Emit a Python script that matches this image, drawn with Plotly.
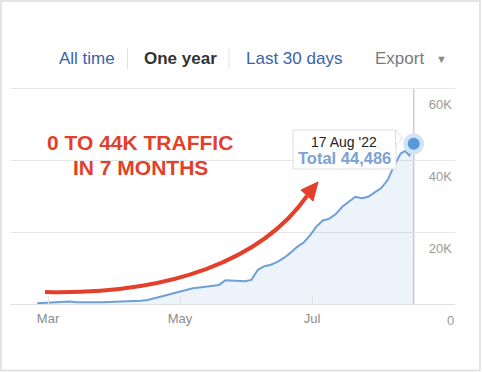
import plotly.graph_objects as go

# ---- data ----
dates = [
    "2022-02-24", "2022-02-27", "2022-03-02", "2022-03-05", "2022-03-08", "2022-03-11",
    "2022-03-14", "2022-03-17", "2022-03-20", "2022-03-23", "2022-03-26", "2022-03-29",
    "2022-04-01", "2022-04-04", "2022-04-07", "2022-04-10", "2022-04-13", "2022-04-16",
    "2022-04-19", "2022-04-22", "2022-04-25", "2022-04-28", "2022-05-01", "2022-05-04",
    "2022-05-07", "2022-05-10", "2022-05-13", "2022-05-16", "2022-05-19", "2022-05-22",
    "2022-05-25", "2022-05-28", "2022-05-31", "2022-06-03", "2022-06-06", "2022-06-09",
    "2022-06-12", "2022-06-15", "2022-06-18", "2022-06-21", "2022-06-24", "2022-06-27",
    "2022-06-30", "2022-07-03", "2022-07-06", "2022-07-09", "2022-07-12", "2022-07-15",
    "2022-07-18", "2022-07-21", "2022-07-24", "2022-07-27", "2022-07-30", "2022-08-02",
    "2022-08-05", "2022-08-08", "2022-08-11", "2022-08-13", "2022-08-15", "2022-08-16",
    "2022-08-17",
]
traffic = [
    200, 300, 400, 450, 500, 700,
    500, 450, 500, 450, 500, 550,
    600, 850, 700, 800, 900, 1100,
    1500, 2000, 2500, 3000, 3500, 4100,
    4400, 4600, 4900, 5100, 5300, 6600,
    6500, 6300, 6300, 6700, 9500, 10500,
    10900, 11700, 12800, 14200, 15800, 17000,
    19000, 21500, 23200, 23700, 25000, 27000,
    28500, 29800, 29400, 29800, 31000, 32200,
    34500, 38500, 41800, 42500, 41300, 43200,
    44486,
]
x_tick_vals = ["2022-03-01", "2022-05-01", "2022-07-01"]
x_tick_text = ["Mar", "May", "Jul"]
y_tick_vals = [0, 20000, 40000, 60000]
y_tick_text = ["0", "20K", "40K", "60K"]
tabs = ["All time", "One year", "Last 30 days"]
tooltip_date = "17 Aug '22"
headline = ["0 TO 44K TRAFFIC", "IN 7 MONTHS"]

FONT = "Liberation Sans, Arial, Helvetica, sans-serif"
RED = "#e2402a"
W, H = 482, 372
L, R, T, B = 10, 455, 87, 304
Y_MAX = 60280  # top of plot area one pixel above the 60K gridline


def px(x):
    return (x - L) / (R - L)


def py(y):
    return (B - y) / (B - T)


def pt(x, y):
    return f"{px(x):.5f},{py(y):.5f}"


fig = go.Figure()
fig.add_trace(go.Scatter(
    x=dates, y=traffic, mode="lines",
    line=dict(color="#6f9fd9", width=2),
    fill="tozeroy", fillcolor="rgba(111,159,217,0.12)", hoverinfo="skip"))
fig.add_trace(go.Scatter(
    x=[dates[-1]], y=[traffic[-1]], mode="markers",
    marker=dict(size=21, color="#d3e3f6"), hoverinfo="skip"))
fig.add_trace(go.Scatter(
    x=[dates[-1]], y=[traffic[-1]], mode="markers",
    marker=dict(size=12, color="#5b97dc"), hoverinfo="skip"))

shapes = []
# outer frame
shapes.append(dict(type="rect", xref="paper", yref="paper",
                   x0=px(1), x1=px(480), y0=py(370.5), y1=py(1),
                   line=dict(color="#dcdcdc", width=1.5), layer="below"))
# crosshair line at last point
shapes.append(dict(type="line", xref="x", yref="paper",
                   x0=dates[-1], x1=dates[-1], y0=0, y1=py(88),
                   line=dict(color="#c9ced7", width=1.5), layer="below"))
# header separators
for sx in (127.5, 229):
    shapes.append(dict(type="line", xref="paper", yref="paper",
                       x0=px(sx), x1=px(sx), y0=py(48), y1=py(69),
                       line=dict(color="#e2e2e2", width=1)))
# red arrow curve
shapes.append(dict(type="path", xref="paper", yref="paper",
                   path=f"M {pt(45, 292)} C {pt(170, 295)} {pt(262, 260)} {pt(307, 196)}",
                   line=dict(color=RED, width=4)))
shapes.append(dict(type="path", xref="paper", yref="paper",
                   path=f"M {pt(318, 182)} L {pt(301, 190)} L {pt(313, 201)} Z",
                   fillcolor=RED, line=dict(color=RED, width=1)))
# tooltip box
shapes.append(dict(type="rect", xref="paper", yref="paper",
                   x0=px(293), x1=px(396), y0=py(169), y1=py(130),
                   fillcolor="rgba(255,255,255,0.95)",
                   line=dict(color="#dedede", width=1)))
shapes.append(dict(type="path", xref="paper", yref="paper",
                   path=f"M {pt(395.5, 131)} L {pt(403, 138)} L {pt(395.5, 145)} Z",
                   fillcolor="rgba(255,255,255,0.95)", line=dict(color="#dedede", width=1)))

annotations = []
tab_pos = [87, 180.5, 293.5]
tab_style = [("#3b62aa", False), ("#333333", True), ("#3b62aa", False)]
for label, x, (col, bold) in zip(tabs, tab_pos, tab_style):
    annotations.append(dict(xref="paper", yref="paper", x=px(x), y=py(58),
                            text=f"<b>{label}</b>" if bold else label, showarrow=False,
                            xanchor="center", yanchor="middle",
                            font=dict(family=FONT, size=17, color=col)))
annotations.append(dict(xref="paper", yref="paper", x=px(399), y=py(58), text="Export",
                        showarrow=False, xanchor="center", yanchor="middle",
                        font=dict(family=FONT, size=17, color="#7a7a7a")))
annotations.append(dict(xref="paper", yref="paper", x=px(441), y=py(59), text="▼",
                        showarrow=False, xanchor="center", yanchor="middle",
                        font=dict(family=FONT, size=11, color="#8a8a8a")))
for line_text, y in zip(headline, (142.5, 167.5)):
    annotations.append(dict(xref="paper", yref="paper", x=px(140), y=py(y),
                            text=f"<b>{line_text}</b>", showarrow=False,
                            xanchor="center", yanchor="middle",
                            font=dict(family=FONT, size=21, color=RED)))
annotations.append(dict(xref="paper", yref="paper", x=px(344), y=py(142),
                        text=tooltip_date, showarrow=False, xanchor="center", yanchor="middle",
                        font=dict(family=FONT, size=14, color="#222222")))
annotations.append(dict(xref="paper", yref="paper", x=px(344.5), y=py(158),
                        text=f"<b>Total {traffic[-1]:,}</b>", showarrow=False,
                        xanchor="center", yanchor="middle",
                        font=dict(family=FONT, size=16.5, color="#7ba2d6")))
# zero label of the y axis sits below the plot area (hidden by plotly when inside)
annotations.append(dict(xref="paper", yref="y", x=1, y=y_tick_vals[0],
                        text=y_tick_text[0], showarrow=False, xanchor="right", yanchor="middle",
                        yshift=-16, xshift=1,
                        font=dict(family=FONT, size=13, color="#9a9a9a")))

fig.update_layout(
    width=W, height=H,
    margin=dict(l=L, r=W - R, t=T, b=H - B),
    paper_bgcolor="white", plot_bgcolor="white",
    showlegend=False,
    font=dict(family=FONT),
    shapes=shapes, annotations=annotations,
    xaxis=dict(
        type="date",
        range=["2022-02-11 10:00", "2022-09-05 02:00"],
        tickvals=x_tick_vals, ticktext=x_tick_text,
        ticks="inside", ticklen=8, tickcolor="#e4e4e4", tickwidth=1,
        ticklabelstandoff=5,
        showgrid=False, zeroline=False, showline=False,
        tickfont=dict(family=FONT, size=13, color="#8c8c8c"),
        fixedrange=True,
    ),
    yaxis=dict(
        range=[0, Y_MAX], side="right",
        tickvals=y_tick_vals, ticktext=y_tick_text,
        ticklabelposition="inside", ticklabelshift=16, ticklabelstandoff=0,
        showgrid=True, gridcolor="#e6e6e6", gridwidth=1,
        zeroline=True, zerolinecolor="#e0e0e0", zerolinewidth=1,
        showline=False,
        tickfont=dict(family=FONT, size=13, color="#9a9a9a"),
        fixedrange=True,
    ),
)

fig.write_html(
    "out.html",
    config={"displayModeBar": False, "staticPlot": True},
    post_script="document.body.style.margin='0px';document.body.style.overflow='hidden';",
)
